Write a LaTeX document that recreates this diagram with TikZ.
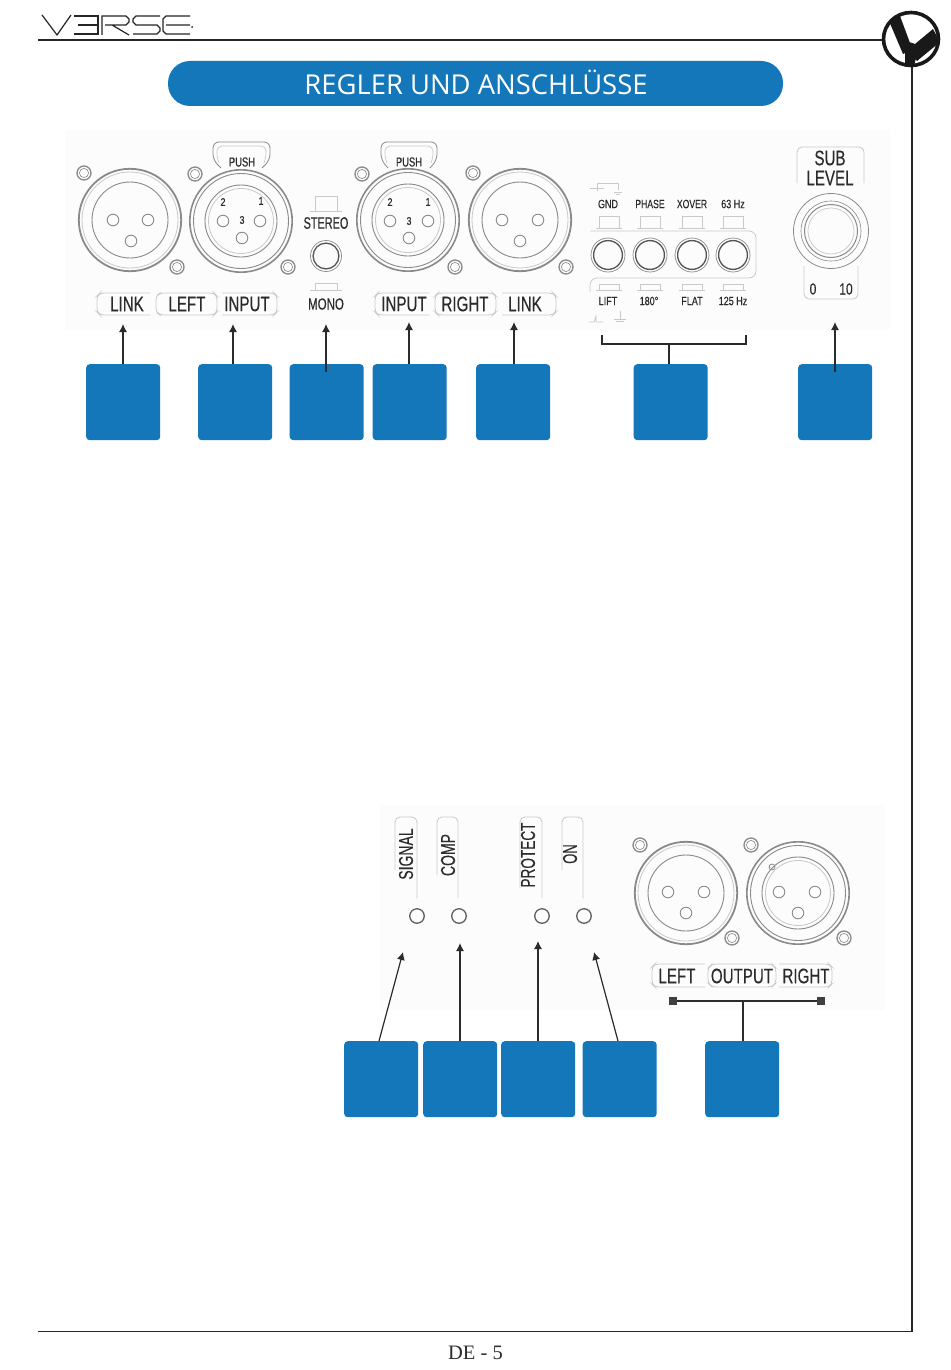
\documentclass[tikz,border=0pt]{standalone}
\usepackage{fontspec}
\usepackage{graphicx}
\setmainfont{Liberation Serif}
\setsansfont{Liberation Sans}
\newfontfamily\labfont[FakeBold=0.35]{Liberation Sans}
\newfontfamily\titlefont{Open Sans}
\usetikzlibrary{arrows.meta,calc}
\definecolor{vblue}{HTML}{1477BA}
\definecolor{hw}{HTML}{8A8A8A}
\definecolor{hwl}{HTML}{C9C9C9}
\definecolor{ink}{HTML}{2B2B2B}
\definecolor{panel}{HTML}{FCFCFC}
\newcommand\lab[3][.72]{\scalebox{#1}[1]{\fontsize{#2}{#2}\selectfont\labfont #3}}
\newcommand\screw[2]{\draw[hw,line width=1.3pt] (#1,#2) circle (7);\draw[hw,line width=.6pt] (#1,#2) circle (4.6);}
\newcommand\pins[6]{\draw[hw,line width=.9pt] (#1,#2) circle (5.8) (#3,#4) circle (5.8) (#5,#6) circle (5.8);}
\newcommand\rings[2]{\draw[hw,line width=1.8pt] (#1,#2) circle (51.2);\draw[hwl,line width=.8pt] (#1,#2) circle (48);\draw[hw,line width=.9pt] (#1,#2) circle (38);}
\newcommand\ringsb[2]{\draw[hw,line width=1.6pt] (#1,#2) circle (51.2);\draw[hw,line width=.9pt] (#1,#2) circle (47.5);\draw[hw,line width=.9pt] (#1,#2) circle (36);\draw[hwl,line width=.8pt] (#1,#2) circle (32.5);}
\newcommand\jack[3][17]{\draw[hw,line width=.7pt] (#2,#3) circle (#1);\draw[ink!80,line width=1.3pt] (#2,#3) circle ({#1-2.6});}
\newcommand\keycap[4]{\draw[hwl,line width=.7pt] ({#1-10},#3) -- ({#1-10},#2) -- ({#1+10},#2) -- ({#1+10},#3);\draw[hwl,line width=.7pt] ({#1-13},#3) -- ({#1+13},#3);}
\newcommand\gsym[2]{\draw[hwl,line width=.8pt] ({#1-6},{#2+4}) -- ({#1+6},{#2+4}) (#1,{#2-4}) -- (#1,{#2+4}) ({#1-4},{#2+6.5}) -- ({#1+4},{#2+6.5});}
\tikzset{
  numbox/.style={fill=vblue,draw=none,rounded corners=3.5pt,minimum width=74pt,minimum height=76pt,inner sep=0pt,anchor=north west},
  lbl/.style={text=ink,inner sep=0pt},
  lframe/.style={draw=hwl,line width=.8pt,rounded corners=4pt},
  arr/.style={draw=ink,line width=1.2pt,-{Latex[length=8pt,width=8pt]}},
  link/.style={draw=ink,line width=1.2pt},
  rule/.style={draw=black!85,line width=1.2pt},
}
\begin{document}
\begin{tikzpicture}[x=1pt,y=-1pt]
\useasboundingbox (0,0) rectangle (950,1370);
\fill[white] (0,0) rectangle (950,1370);
% panels
\fill[panel] (65,130) rectangle (890,330);
\fill[panel] (380,805) rectangle (885,1010);
% header / frame
\draw[rule,line width=1.5pt] (38,40) -- (884,40);
\draw[rule] (912,66) -- (912,1331.5) -- (38,1331.5);
% logo word
\begin{scope}[draw=black!85,line width=1.2pt]
\draw (42,15) -- (57,35) -- (71,15);
\draw (74,16) -- (98,16) -- (98,34) -- (74,34) (78,25) -- (97,25);
\draw (102,35) -- (102,16) -- (126,16) -- (129,19) -- (129,22) -- (126,25) -- (105,25) (112,25) -- (129,35);
\draw (160,16) -- (136,16) -- (133,19) -- (133,22) -- (136,25) -- (157,25) -- (160,28) -- (160,31) -- (157,34) -- (133,34);
\draw (190,16) -- (166,16) -- (163,19) -- (163,31) -- (166,34) -- (190,34) (166,25) -- (190,25);
\end{scope}
\fill[black!85] (192,27) circle (1);
% round logo
\draw[black!90,line width=3.6pt] (911,39) ellipse (27.5 and 26.5);
\fill[black!90] (889,21) -- (900,16) -- (910,43) -- (905,53) -- (903,54) -- cycle;
\fill[black!90] (933,29) -- (940,42) -- (917,61) -- (905,48) -- (909,42) -- (915,44) -- cycle;
\fill[black!90] (905,47) -- (918,50) -- (914,66) -- (905,64) -- cycle;
% title
\node[fill=vblue,rounded corners=22pt,minimum width=615pt,minimum height=45pt,inner sep=0pt] (title) at (475.5,83.5) {};
\node[text=white,inner sep=0pt] (titletext) at (476,82) {\titlefont\fontsize{27.4}{27.4}\selectfont REGLER UND ANSCHLÜSSE};

% --- upper panel hardware
\screw{84}{173}\screw{177}{267}
\rings{130}{220}\pins{113}{220}{148}{220}{131}{241}
\screw{195}{174}\screw{288}{267}
\draw[hw,line width=.8pt,rounded corners=6pt] (221,168) -- (213,160) -- (213,142) -- (270,142) -- (270,160) -- (262,168);
\draw[hwl,line width=.7pt,rounded corners=5pt] (219,163) -- (217,158) -- (217,146) -- (266,146) -- (266,158) -- (264,163);
\ringsb{241}{221}\pins{223}{221}{260}{221}{242}{238}
\node[lbl] (push1) at (242,162) {\lab{13}{PUSH}};
\node[lbl] (p12) at (223,202) {\lab[.8]{11}{2}};
\node[lbl] (p11) at (261,201) {\lab[.8]{11}{1}};
\node[lbl] (p13) at (242,220) {\lab[.8]{11}{3}};
\screw{362}{174}\screw{455}{267}
\draw[hw,line width=.8pt,rounded corners=6pt] (388,168) -- (381,160) -- (381,142) -- (437,142) -- (437,160) -- (430,168);
\draw[hwl,line width=.7pt,rounded corners=5pt] (387,163) -- (385,158) -- (385,146) -- (433,146) -- (433,158) -- (431,163);
\ringsb{408}{220}\pins{390}{221}{428}{221}{409}{238}
\node[lbl] (push2) at (409,162) {\lab{13}{PUSH}};
\node[lbl] (p22) at (390,202) {\lab[.8]{11}{2}};
\node[lbl] (p21) at (428,202) {\lab[.8]{11}{1}};
\node[lbl] (p23) at (409,221) {\lab[.8]{11}{3}};
\screw{473}{173}\screw{566}{267}
\rings{520}{220}\pins{502}{220}{538}{220}{520}{241}
% stereo/mono
\draw[hwl,line width=.7pt] (315,211) -- (315,196) -- (337,196) -- (337,211) (310,211) -- (342,211);
\node[lbl] (stereo) at (326,223) {\lab[.66]{16.5}{STEREO}};
\jack[15.5]{326}{256}
\draw[hwl,line width=.7pt] (315,290) -- (315,283) -- (337,283) -- (337,290) (310,290) -- (342,290);
\node[lbl] (mono) at (326,304) {\lab{16}{MONO}};
% label frames
\draw[lframe] (150,293) -- (100,293) -- (97,296) -- (97,312) -- (100,315) -- (150,315);
\draw[lframe] (217,296) -- (214,293) -- (160,293) -- (156,296) -- (156,312) -- (160,315) -- (214,315) -- (217,312) -- cycle;
\draw[lframe] (222,293) -- (274,293) -- (277,296) -- (277,312) -- (274,315) -- (222,315);
\draw[lframe] (429,293) -- (378,293) -- (375,296) -- (375,312) -- (378,315) -- (429,315);
\draw[lframe] (496,296) -- (493,293) -- (438,293) -- (435,296) -- (435,312) -- (438,315) -- (493,315) -- (496,312) -- cycle;
\draw[lframe] (502,293) -- (553,293) -- (556,296) -- (556,312) -- (553,315) -- (502,315);
\node[lbl] (link1) at (127,304) {\lab{21}{LINK}};
\node[lbl] (left1) at (187,304) {\lab{21}{LEFT}};
\node[lbl] (input1) at (247,304) {\lab{21}{INPUT}};
\node[lbl] (input2) at (404,304) {\lab{21}{INPUT}};
\node[lbl] (right1) at (465,304) {\lab{21}{RIGHT}};
\node[lbl] (link2) at (525,304) {\lab{21}{LINK}};
% switches
\node[lbl] (gnd) at (608,204) {\lab[.75]{12}{GND}};
\node[lbl] (phase) at (650,204) {\lab[.72]{12}{PHASE}};
\node[lbl] (xover) at (692,204) {\lab[.72]{12}{XOVER}};
\node[lbl] (hz63) at (733,204) {\lab[.75]{12}{63 Hz}};
\keycap{609}{216}{228}{}\keycap{650}{216}{228}{}\keycap{692}{216}{228}{}\keycap{733}{216}{228}{}
\jack{608}{255}\jack{650}{255}\jack{692}{255}\jack{733}{255}
\draw[hwl,line width=.8pt,rounded corners=7pt] (590,231) -- (756,231) -- (756,278) -- (590,278) -- (590,292);
\keycap{609}{284}{290}{}\keycap{650}{284}{290}{}\keycap{692}{284}{290}{}\keycap{733}{284}{290}{}
\node[lbl] (lift) at (608,301) {\lab[.75]{12}{LIFT}};
\node[lbl] (d180) at (649,301) {\lab[.75]{12}{180°}};
\node[lbl] (flat) at (692,301) {\lab[.75]{12}{FLAT}};
\node[lbl] (hz125) at (733,301) {\lab[.75]{12}{125 Hz}};
\gsym{620}{315}
\draw[hwl,line width=.8pt] (589,322) -- (594,322) -- (596,316) (596,315) -- (596,322) -- (603,322);
\draw[hwl,line width=.8pt] (590,188) -- (604,188) (597,184) -- (597,191) (597,183) -- (618,183) -- (618,190);
\draw[hwl,line width=.8pt] (614,192) -- (622,192) (616,194) -- (620,194);
% sub level
\draw[lframe,rounded corners=5pt] (797,183) -- (797,147) -- (864,147) -- (864,183);
\node[lbl] (sub) at (830,158) {\lab{21}{SUB}};
\node[lbl] (level) at (830,178) {\lab{21}{LEVEL}};
\draw[hw,line width=.8pt] (831,231) circle (37.5);
\draw[hw,line width=.6pt] (831,231) circle (30);
\draw[hw,line width=1pt] (831,231) circle (26.5);
\draw[hwl,line width=.7pt] (831,231) circle (23);
\draw[lframe,rounded corners=5pt] (804,266) -- (804,299) -- (858,299) -- (858,266);
\node[lbl] (lo) at (813,289) {\lab[.75]{16}{0}};
\node[lbl] (hi) at (846,289) {\lab[.75]{16}{10}};
% blue boxes upper
\node[numbox] (b1) at (86,364) {};
\node[numbox] (b2) at (198,364) {};
\node[numbox] (b3) at (289.5,364) {};
\node[numbox] (b4) at (372.5,364) {};
\node[numbox] (b5) at (476,364) {};
\node[numbox] (b6) at (633.5,364) {};
\node[numbox] (b7) at (798,364) {};
% upper connectors
\coordinate (a1) at (123,324);\coordinate (a2) at (233,324);\coordinate (a3) at (326,324);
\coordinate (a4) at (409,322);\coordinate (a5) at (514,322);\coordinate (a7) at (835,322);
\coordinate (s3) at (326,372);\coordinate (s7) at (835,372);
\draw[arr] (a1 |- b1.north) -- (a1);
\draw[arr] (a2 |- b2.north) -- (a2);
\draw[arr] (s3) -- (a3);
\draw[arr] (a4 |- b4.north) -- (a4);
\draw[arr] (a5 |- b5.north) -- (a5);
\draw[arr] (s7) -- (a7);
\coordinate (brl) at (602,335);\coordinate (brr) at (746,335);\coordinate (brm) at (669,344);
\draw[link,line width=1.3pt] (brl) -- (brl |- brm) -- (brr |- brm) -- (brr);
\draw[link] (brm) -- (brm |- b6.north);

% --- lower panel
\draw[lframe,rounded corners=5pt] (395,870) -- (395,817) -- (417,817) -- (417,898);
\draw[lframe,rounded corners=5pt] (437,875) -- (437,817) -- (458,817) -- (458,898);
\draw[lframe,rounded corners=5pt] (520,888) -- (520,817) -- (542,817) -- (542,898);
\draw[lframe,rounded corners=5pt] (562,870) -- (562,817) -- (583,817) -- (583,898);
\node[lbl,rotate=90] (signal) at (406,854) {\lab[.7]{20}{SIGNAL}};
\node[lbl,rotate=90] (comp) at (448,855) {\lab[.7]{20}{COMP}};
\node[lbl,rotate=90] (protect) at (528,855) {\lab[.68]{20}{PROTECT}};
\node[lbl,rotate=90] (on) at (570,854) {\lab[.65]{20}{ON}};
\foreach \nm/\xx in {led1/417,led2/459,led3/542,led4/584}{
  \node[circle,draw=ink!75,line width=1.3pt,minimum size=14.5pt,inner sep=0pt] (\nm) at (\xx,916) {};
}
\screw{640}{845}\screw{732}{938}
\rings{686}{893}\pins{668}{892}{704}{892}{686}{913}
\screw{751}{845}\screw{844}{938}
\ringsb{798}{893}\pins{779}{892}{815}{892}{798}{913}
\draw[hw,line width=.8pt] (772,867) circle (3);
\draw[lframe] (705,987) -- (655,987) -- (652,984) -- (652,967) -- (655,964) -- (705,964);
\draw[lframe] (712,964) -- (772,964) -- (776,968) -- (776,983) -- (772,987) -- (712,987) -- (708,983) -- (708,968) -- cycle;
\draw[lframe] (779,964) -- (829,964) -- (832,967) -- (832,984) -- (829,987) -- (779,987);
\node[lbl] (left2) at (677,976) {\lab{21}{LEFT}};
\node[lbl] (output) at (742,976) {\lab{21}{OUTPUT}};
\node[lbl] (right2) at (806,976) {\lab{21}{RIGHT}};
% blue boxes lower
\node[numbox] (c1) at (344,1041) {};
\node[numbox] (c2) at (423,1041) {};
\node[numbox] (c3) at (501,1041) {};
\node[numbox] (c4) at (582.5,1041) {};
\node[numbox] (c5) at (705,1041) {};
\coordinate (l1) at (403,952);\coordinate (l2) at (460,943);\coordinate (l3) at (538,941);\coordinate (l4) at (594,952);
\coordinate (k1) at (379,1041);\coordinate (k4) at (618,1041);
\draw[arr] (k1) -- (l1);
\draw[arr] (l2 |- c2.north) -- (l2);
\draw[arr] (l3 |- c3.north) -- (l3);
\draw[arr] (k4) -- (l4);
\node[fill=ink!90,minimum size=8pt,inner sep=0pt] (el) at (673,1001) {};
\node[fill=ink!90,minimum size=8pt,inner sep=0pt] (er) at (821,1001) {};
\draw[link,line width=1.3pt] (el) -- (er);
\coordinate (om) at (743,1001);
\draw[link] (om) -- (om |- c5.north);
% page number
\node[inner sep=0pt,text=ink] (page) at (475.5,1353) {\fontsize{20.5}{20.5}\selectfont DE - 5};
\end{tikzpicture}
\end{document}
